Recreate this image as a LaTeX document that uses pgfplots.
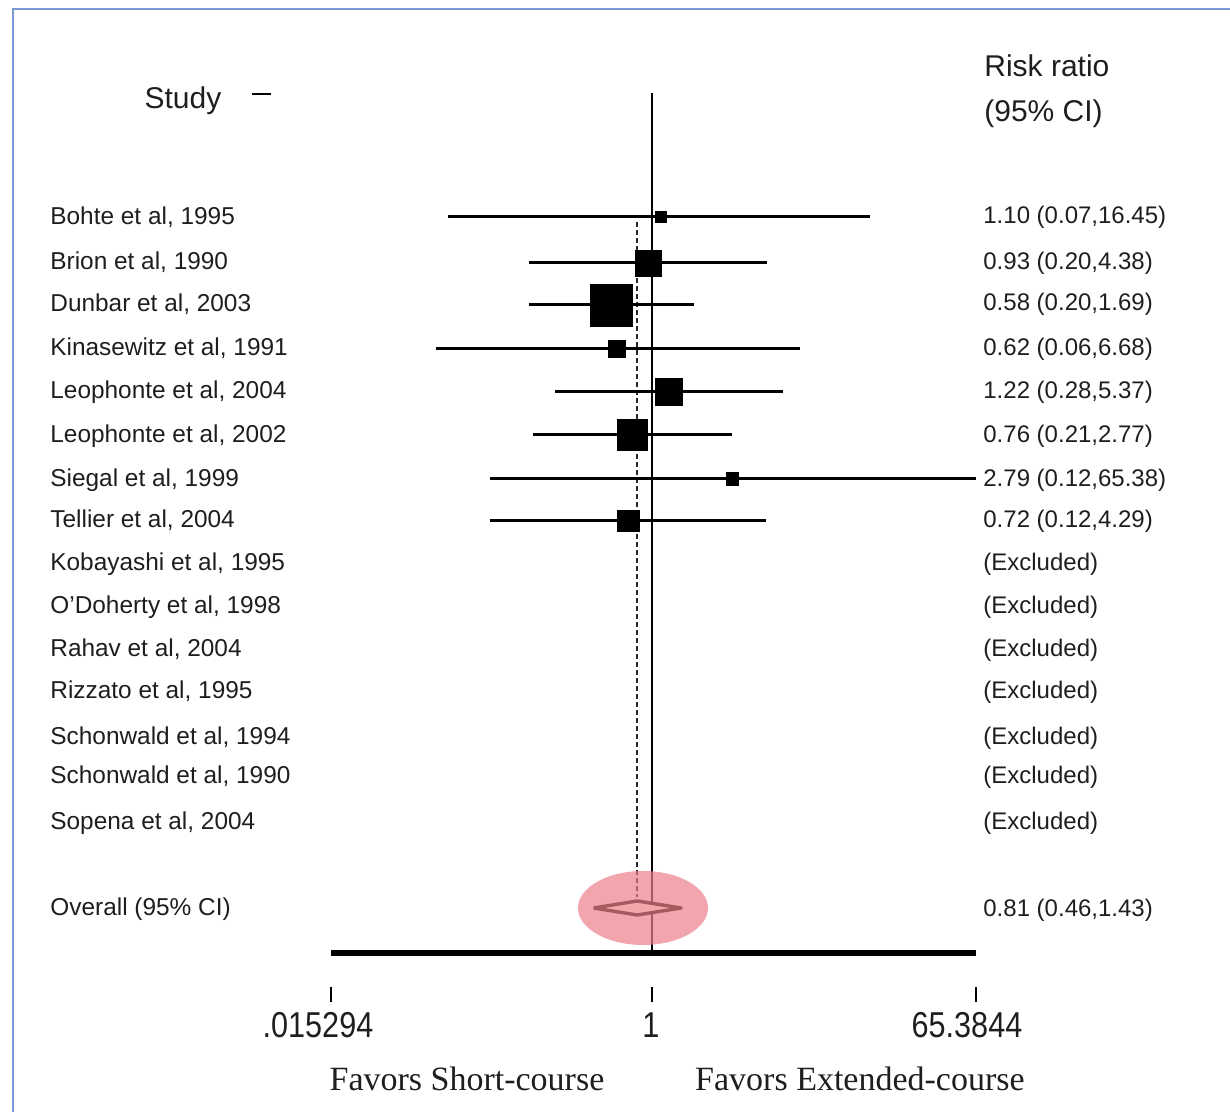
\documentclass[border=0pt]{standalone}
\usepackage{pgfplots}
\pgfplotsset{compat=1.18}
\usepackage{pgfplotstable}
\usepackage{fontspec}
\setmainfont{Liberation Sans}
\newfontfamily\serifb{Liberation Serif}
\newfontfamily\narrowsans[FakeStretch=0.85]{Liberation Sans}
\definecolor{framebl}{HTML}{7A9AD8}
\definecolor{pinkel}{HTML}{EE7F8A}
\definecolor{txt}{HTML}{1E1E1E}

% study estimates: risk ratio, CI, row (negative pixel row), marker half-side (pt)
\pgfplotstableread{
rr   lo   hi      y    ms
1.10 0.07 16.45   -217 2.8
0.93 0.20 4.38    -263 6.5
0.58 0.20 1.69    -305 10.5
0.62 0.06 6.68    -349 4.3
1.22 0.28 5.37    -392 6.7
0.76 0.21 2.77    -435 7.7
2.79 0.12 65.3844 -479 3.1
0.72 0.12 4.29    -521 5.4
}\studies

% confidence interval segments
\pgfplotstableread{
x       y
0.07    -217
16.45   -217
nan     nan
0.20    -263
4.38    -263
nan     nan
0.20    -305
1.69    -305
nan     nan
0.06    -349
6.68    -349
nan     nan
0.28    -392
5.37    -392
nan     nan
0.21    -435
2.77    -435
nan     nan
0.12    -479
65.3844 -479
nan     nan
0.12    -521
4.29    -521
}\cis

\begin{document}
\begin{tikzpicture}
\begin{axis}[
  xmode=log, xmin=0.015294, xmax=65.3844,
  ymin=-1112, ymax=0,
  width=322.5pt, height=556pt, scale only axis,
  axis lines=none, clip=false,
  unbounded coords=jump,
]
\coordinate (TL) at (rel axis cs:-0.513178,1);
\coordinate (BR) at (rel axis cs:1.393798,0);

% reference line at 1
\addplot[black, line width=1pt] coordinates {(0.985,-93) (0.985,-953)};
% overall estimate (dashed)
\addplot[black!85, line width=0.9pt, dash pattern=on 2.5pt off 1.5pt] coordinates {(0.81,-222) (0.81,-897)};
% CI lines
\addplot[black, line width=1.5pt] table[x=x,y=y] {\cis};
% weighted boxes
\addplot[scatter, only marks, mark=square*,
  scatter/use mapped color={draw=black, fill=black},
  visualization depends on={\thisrow{ms}\as\msz},
  scatter/@pre marker code/.append style={/tikz/mark size=\msz}]
  table[x=rr, y=y] {\studies};
% overall diamond
\addplot[black, line width=1.7pt, fill=white, line join=round]
  coordinates {(0.46,-908) (0.81,-901) (1.43,-908) (0.81,-915) (0.46,-908)};
% x axis line
\addplot[black, line width=2.6pt] coordinates {(0.015294,-953) (65.3844,-953)};
% ticks
\addplot[black, line width=0.9pt] coordinates {(0.015294,-987) (0.015294,-1002) (nan,nan) (0.985,-987) (0.985,-1002) (nan,nan) (65.3844,-987) (65.3844,-1002)};
% highlight ellipse
\fill[pinkel, opacity=0.7] (axis cs:0.873,-908) ellipse [x radius=32.5pt, y radius=18.5pt];
\end{axis}

\begin{scope}[shift={(TL)}, x=0.5pt, y=-0.5pt, text=txt]
  \tikzset{nm/.style={anchor=west, inner sep=0pt, text height=0.72em, text depth=0pt, font=\fontsize{12.2}{14}\selectfont},
           rc/.style={anchor=west, inner sep=0pt, text height=0.72em, text depth=0pt, font=\fontsize{12}{14}\selectfont}}
  % frame
  \draw[framebl, line width=1pt] (13,1112) -- (13,9) -- (1230,9);
  % headers
  \node[anchor=center, inner sep=0pt, font=\fontsize{15}{18}\selectfont] at (183,101) {Study};
  \draw[black, line width=1.3pt] (252,94) -- (271,94);
  \node[anchor=west, inner sep=0pt, text height=0.72em, text depth=0pt, font=\fontsize{15}{18}\selectfont] at (984,69) {Risk ratio};
  \node[anchor=west, inner sep=0pt, text height=0.72em, text depth=0pt, font=\fontsize{15}{18}\selectfont] at (984,114) {(95\% CI)};
  % study names
  \node[nm] at (50,217) {Bohte et al, 1995};
  \node[nm] at (50,262) {Brion et al, 1990};
  \node[nm] at (50,304) {Dunbar et al, 2003};
  \node[nm] at (50,348) {Kinasewitz et al, 1991};
  \node[nm] at (50,391) {Leophonte et al, 2004};
  \node[nm] at (50,435) {Leophonte et al, 2002};
  \node[nm] at (50,479) {Siegal et al, 1999};
  \node[nm] at (50,520) {Tellier et al, 2004};
  \node[nm] at (50,563) {Kobayashi et al, 1995};
  \node[nm] at (50,606) {O'Doherty et al, 1998};
  \node[nm] at (50,649) {Rahav et al, 2004};
  \node[nm] at (50,691) {Rizzato et al, 1995};
  \node[nm] at (50,737) {Schonwald et al, 1994};
  \node[nm] at (50,776) {Schonwald et al, 1990};
  \node[nm] at (50,822) {Sopena et al, 2004};
  \node[nm] at (50,908) {Overall (95\% CI)};
  % right column
  \node[rc] at (983,216) {1.10 (0.07,16.45)};
  \node[rc] at (983,262) {0.93 (0.20,4.38)};
  \node[rc] at (983,303) {0.58 (0.20,1.69)};
  \node[rc] at (983,348) {0.62 (0.06,6.68)};
  \node[rc] at (983,391) {1.22 (0.28,5.37)};
  \node[rc] at (983,435) {0.76 (0.21,2.77)};
  \node[rc] at (983,479) {2.79 (0.12,65.38)};
  \node[rc] at (983,520) {0.72 (0.12,4.29)};
  \node[rc] at (983,563) {(Excluded)};
  \node[rc] at (983,606) {(Excluded)};
  \node[rc] at (983,649) {(Excluded)};
  \node[rc] at (983,691) {(Excluded)};
  \node[rc] at (983,737) {(Excluded)};
  \node[rc] at (983,776) {(Excluded)};
  \node[rc] at (983,822) {(Excluded)};
  \node[rc] at (983,909) {0.81 (0.46,1.43)};
  % tick labels
  \node[anchor=center, inner sep=0pt, font=\narrowsans\fontsize{18}{20}\selectfont] at (318,1025) {.015294};
  \node[anchor=center, inner sep=0pt, font=\narrowsans\fontsize{18}{20}\selectfont] at (651,1025) {1};
  \node[anchor=center, inner sep=0pt, font=\narrowsans\fontsize{18}{20}\selectfont] at (967,1025) {65.3844};
  % direction labels
  \node[anchor=center, inner sep=0pt, font=\serifb\fontsize{17}{20}\selectfont] at (467,1079) {Favors Short-course};
  \node[anchor=center, inner sep=0pt, font=\serifb\fontsize{17}{20}\selectfont] at (860,1079) {Favors Extended-course};
\end{scope}
\pgfresetboundingbox
\path[use as bounding box] (TL) rectangle (BR);
\end{tikzpicture}
\end{document}
